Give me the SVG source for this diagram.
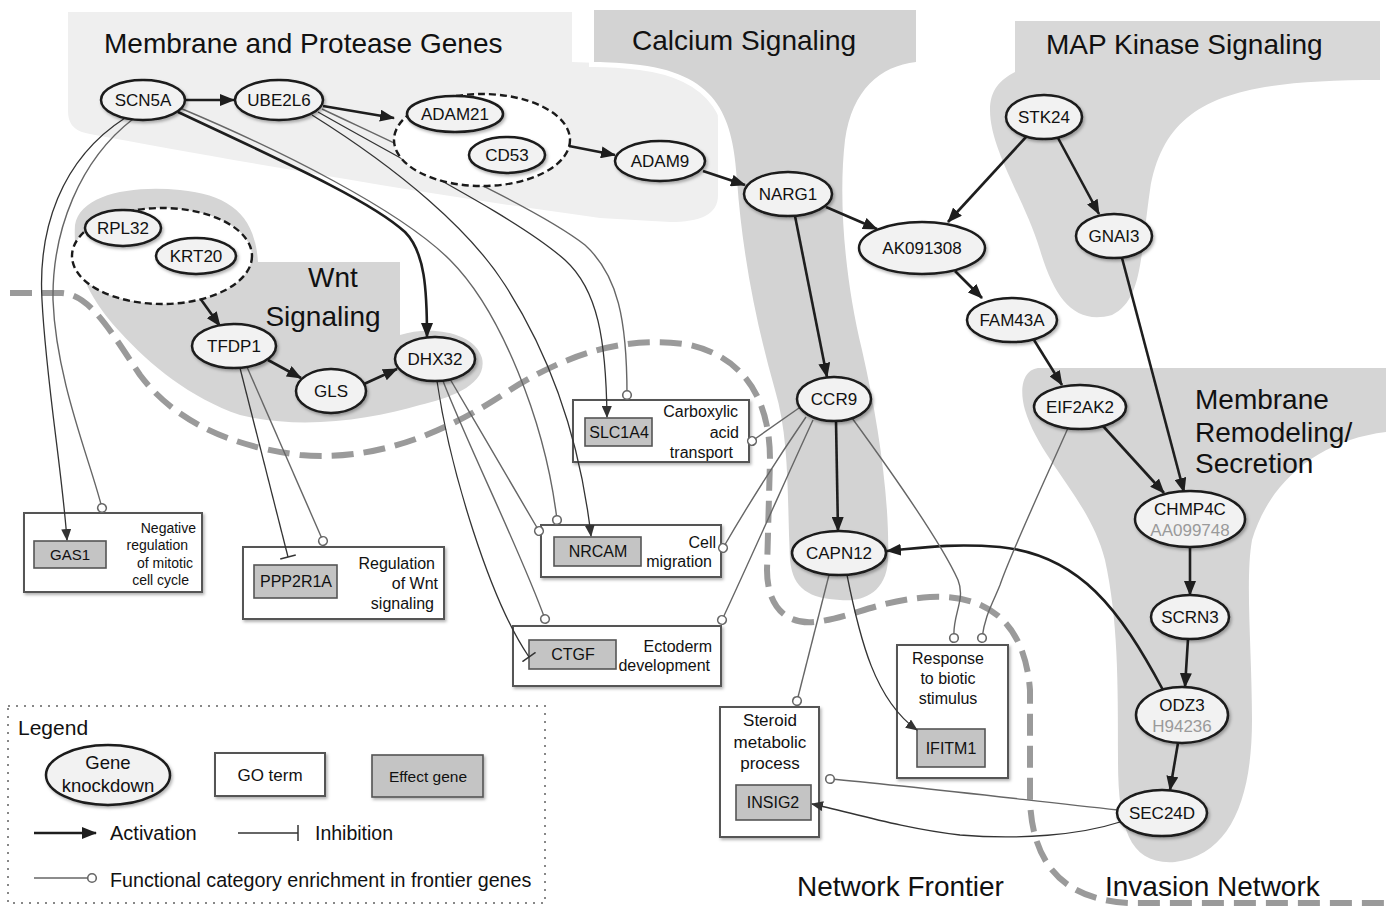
<svg xmlns="http://www.w3.org/2000/svg" width="1386" height="908" viewBox="0 0 1386 908">
<style>
text{font-family:"Liberation Sans",Arial,sans-serif;fill:#111}
.title{font-size:28px}
.node ellipse.n{fill:#f2f2f2;stroke:#1a1a1a;stroke-width:2.5;filter:url(#sh)}
.node text{font-size:17px;text-anchor:middle}
.grp{fill:#fff;stroke:#1a1a1a;stroke-width:2.4;stroke-dasharray:7 4}
.go{fill:#fff;stroke:#555;stroke-width:2;filter:url(#sh)}
.eff{fill:#c4c4c4;stroke:#555;stroke-width:1.6}
.gotxt{font-size:16px;text-anchor:end}
.gotxtc{font-size:16px;text-anchor:middle}
.efftxt{font-size:16px;text-anchor:middle}
.act{fill:none;stroke:#1e1e1e;stroke-width:2.6;marker-end:url(#ah)}
.tact{fill:none;stroke:#333;stroke-width:1.3;marker-end:url(#at)}
.inh{fill:none;stroke:#333;stroke-width:1.3;marker-end:url(#bar)}
.enr{fill:none;stroke:#666;stroke-width:1.4;marker-end:url(#ci)}
.sub{fill:#9a9a9a}
</style>
<defs>
<filter id="sh" x="-20%" y="-20%" width="150%" height="150%">
<feDropShadow dx="1.5" dy="2" stdDeviation="1.5" flood-color="#000" flood-opacity="0.3"/>
</filter>
<marker id="ah" markerUnits="userSpaceOnUse" markerWidth="15" markerHeight="12" refX="14" refY="6" orient="auto">
<path d="M0,0 L15,6 L0,12 Z" fill="#1e1e1e"/>
</marker>
<marker id="at" markerUnits="userSpaceOnUse" markerWidth="12" markerHeight="10" refX="11" refY="5" orient="auto">
<path d="M0,0 L12,5 L0,10 Z" fill="#333"/>
</marker>
<marker id="bar" markerUnits="userSpaceOnUse" markerWidth="4" markerHeight="16" refX="2" refY="8" orient="auto">
<path d="M2,0 L2,16" stroke="#333" stroke-width="1.5"/>
</marker>
<marker id="ci" markerUnits="userSpaceOnUse" markerWidth="12" markerHeight="12" refX="6" refY="6" orient="auto">
<circle cx="6" cy="6" r="4.3" fill="#fff" stroke="#666" stroke-width="1.6"/>
</marker>
</defs>
<rect width="1386" height="908" fill="#fff"/>

<g id="regions">
<path id="reg-membrane-protease" d="M68,12 L572,12 L572,62 L680,66 C705,70 718,90 718,120 L718,195 C718,215 700,222 670,222 L600,218 C430,195 230,160 90,134 C72,131 68,122 68,110 Z" fill="#efefef"/>
<path id="reg-calcium" d="M594,10 L916,10 L916,62 C880,66 852,90 845,140 C838,200 845,280 862,350 C878,420 890,500 888,560 C886,595 860,602 840,600 C810,598 793,590 790,560 C787,500 790,440 775,390 C755,320 742,250 737,180 C733,120 720,75 640,65 C615,62 600,62 594,62 Z" fill="#d3d3d3" stroke="#fff" stroke-width="10" paint-order="stroke"/>
<path id="reg-map" d="M1015,21 L1380,21 L1380,80 C1230,80 1165,100 1150,190 C1140,260 1142,300 1112,315 C1075,325 1055,300 1040,250 C1025,200 990,150 990,110 C990,90 1000,80 1015,72 Z" fill="#d8d8d8"/>
<path id="reg-wnt" d="M75,225 C80,195 130,185 180,190 C230,195 255,215 258,262 L400,262 L400,335 C430,325 475,332 482,358 C488,385 450,398 420,405 C370,420 300,430 240,415 C190,398 150,365 120,332 C95,305 72,270 75,225 Z" fill="#d5d5d5"/>
<path id="reg-remodel" d="M1040,368 L1386,368 L1386,432 C1320,440 1270,480 1252,540 C1245,580 1252,650 1252,720 C1252,800 1230,855 1175,862 C1130,865 1118,830 1118,760 C1118,680 1118,620 1105,560 C1090,500 1040,460 1025,410 C1018,385 1025,368 1040,368 Z" fill="#d5d5d5"/>
<path id="frontier" d="M10,293 L62,293 C90,295 110,330 140,375 C170,415 220,445 300,455 C380,462 450,430 510,390 C570,352 630,335 690,345 C745,358 770,400 770,460 L767,570 C767,605 785,625 815,622 C850,618 880,600 930,597 C990,594 1025,625 1030,690 L1030,800 C1032,860 1060,900 1130,903 L1386,903" fill="none" stroke="#9a9a9a" stroke-width="6" stroke-dasharray="22 10"/>
<text class="title" x="104" y="53">Membrane and Protease Genes</text>
<text class="title" x="632" y="50">Calcium Signaling</text>
<text class="title" x="1046" y="54">MAP Kinase Signaling</text>
<text class="title" x="333" y="287" text-anchor="middle">Wnt</text>
<text class="title" x="323" y="326" text-anchor="middle">Signaling</text>
<text class="title" x="1195" y="409">Membrane</text>
<text class="title" x="1195" y="442">Remodeling/</text>
<text class="title" x="1195" y="473">Secretion</text>
<text class="title" x="797" y="896">Network Frontier</text>
<text class="title" x="1105" y="896">Invasion Network</text>
</g>

<g id="go-terms">
<g id="go-negreg">
<rect class="go" x="24" y="513" width="178" height="79"/>
<text class="gotxt" x="196" y="533" style="font-size:14px">Negative</text>
<text class="gotxt" x="188" y="550" style="font-size:14px">regulation</text>
<text class="gotxt" x="193" y="568" style="font-size:14px">of mitotic</text>
<text class="gotxt" x="189" y="585" style="font-size:14px">cell cycle</text>
<rect class="eff" x="34" y="541" width="72" height="27"/>
<text class="efftxt" x="70" y="560" style="font-size:15px">GAS1</text>
</g>
<g id="go-wnt">
<rect class="go" x="243" y="547" width="201" height="72"/>
<text class="gotxt" x="435" y="569">Regulation</text>
<text class="gotxt" x="438" y="589">of Wnt</text>
<text class="gotxt" x="434" y="609">signaling</text>
<rect class="eff" x="254" y="565" width="83" height="33"/>
<text class="efftxt" x="296" y="587">PPP2R1A</text>
</g>
<g id="go-carbox">
<rect class="go" x="573" y="400" width="176" height="62"/>
<text class="gotxt" x="738" y="417">Carboxylic</text>
<text class="gotxt" x="739" y="438">acid</text>
<text class="gotxt" x="733" y="458">transport</text>
<rect class="eff" x="585" y="418" width="67" height="28"/>
<text class="efftxt" x="619" y="438">SLC1A4</text>
</g>
<g id="go-cellmig">
<rect class="go" x="541" y="525" width="180" height="52"/>
<text class="gotxt" x="716" y="548">Cell</text>
<text class="gotxt" x="712" y="567">migration</text>
<rect class="eff" x="554" y="537" width="87" height="29"/>
<text class="efftxt" x="598" y="557">NRCAM</text>
</g>
<g id="go-ecto">
<rect class="go" x="513" y="626" width="208" height="60"/>
<text class="gotxt" x="712" y="652">Ectoderm</text>
<text class="gotxt" x="710" y="671">development</text>
<rect class="eff" x="529" y="640" width="87" height="29"/>
<text class="efftxt" x="573" y="660">CTGF</text>
</g>
<g id="go-steroid">
<rect class="go" x="720" y="707" width="99" height="130"/>
<text class="gotxtc" x="770" y="726" style="font-size:17px">Steroid</text>
<text class="gotxtc" x="770" y="748" style="font-size:17px">metabolic</text>
<text class="gotxtc" x="770" y="769" style="font-size:17px">process</text>
<rect class="eff" x="736" y="785" width="75" height="35"/>
<text class="efftxt" x="773" y="808">INSIG2</text>
</g>
<g id="go-biotic">
<rect class="go" x="897" y="645" width="111" height="133"/>
<text class="gotxtc" x="948" y="664">Response</text>
<text class="gotxtc" x="948" y="684">to biotic</text>
<text class="gotxtc" x="948" y="704">stimulus</text>
<rect class="eff" x="917" y="729" width="68" height="38"/>
<text class="efftxt" x="951" y="754">IFITM1</text>
</g>
</g>

<g id="connectors">
<path class="act" d="M186,100 L234,100"/>
<path class="act" d="M323,106 L394,118"/>
<path class="act" d="M569,146 L615,155"/>
<path class="act" d="M703,171 L745,185"/>
<path class="act" d="M826,207 L877,229"/>
<path class="act" d="M1026,137 L948,222"/>
<path class="act" d="M1058,138 L1099,214"/>
<path class="act" d="M955,271 L982,298"/>
<path class="act" d="M1034,340 L1062,385"/>
<path class="act" d="M1103,426 L1164,493"/>
<path class="act" d="M1122,258 L1184,492"/>
<path class="act" d="M1190,546 L1190,595"/>
<path class="act" d="M1188,639 L1185,687"/>
<path class="act" d="M1178,743 L1170,790"/>
<path class="act" d="M795,216 L827,377"/>
<path class="act" d="M836,421 L838,531"/>
<path class="act" d="M1163,690 C1120,610 1080,555 1000,547 C950,543 920,548 887,551"/>
<path class="act" d="M178,112 C280,160 370,200 405,232 C425,252 427,290 427,337"/>
<path class="act" d="M197,294 L220,326"/>
<path class="act" d="M268,360 L301,378"/>
<path class="act" d="M364,384 L397,369"/>
<path d="M489,131 L497,138" stroke="#333" stroke-width="1.5"/>
<path d="M156,240 L162,245" stroke="#333" stroke-width="1.5"/>

<path class="tact" d="M125,118 C60,160 38,230 42,300 C46,380 62,470 67,540"/>
<path class="enr" d="M133,119 C80,160 52,230 53,300 C56,380 90,460 102,508"/>
<path class="enr" d="M180,108 C280,150 400,210 450,260 C500,310 545,420 557,520"/>
<path class="tact" d="M312,115 C400,170 470,230 505,285 C550,355 580,440 591,536"/>
<path class="tact" d="M318,112 C420,170 520,220 565,260 C598,290 606,340 607,417"/>
<path class="enr" d="M322,109 C430,160 540,210 585,245 C618,275 627,320 627,395"/>
<path class="inh" d="M240,368 L288,557"/>
<path class="enr" d="M247,367 L323,541"/>
<path class="enr" d="M450,379 C480,430 515,490 539,531"/>
<path class="enr" d="M443,381 C470,450 520,550 545,619"/>
<path class="inh" d="M437,381 C450,470 490,600 529,657"/>
<path class="enr" d="M799,408 L752,441"/>
<path class="enr" d="M806,417 C780,455 745,510 723,548"/>
<path class="enr" d="M813,420 C790,470 750,560 722,620"/>
<path class="enr" d="M852,418 C890,470 940,540 958,580 C966,600 952,615 954,638"/>
<path class="enr" d="M1068,428 C1045,480 1010,555 1000,585 C992,605 985,615 982,638"/>
<path class="enr" d="M829,575 L797,701"/>
<path class="tact" d="M847,575 C860,640 875,700 917,730"/>
<path class="enr" d="M1118,810 C1000,797 900,785 830,779"/>
<path class="tact" d="M1120,822 C1080,835 1020,840 960,835 C900,828 850,812 812,804"/>
</g>

<g id="nodes">
<g id="n-SCN5A" class="node"><ellipse class="n" cx="143" cy="100" rx="42" ry="20"/><text x="143" y="106">SCN5A</text></g>
<g id="n-UBE2L6" class="node"><ellipse class="n" cx="279" cy="100" rx="44" ry="20"/><text x="279" y="106">UBE2L6</text></g>
<g id="n-group1" class="node">
<ellipse class="grp" cx="482" cy="140" rx="88" ry="46"/>
<ellipse class="n" cx="455" cy="114" rx="48" ry="18"/><text x="455" y="120">ADAM21</text>
<ellipse class="n" cx="507" cy="155" rx="38" ry="18"/><text x="507" y="161">CD53</text>
</g>
<g id="n-ADAM9" class="node"><ellipse class="n" cx="660" cy="161" rx="45" ry="20"/><text x="660" y="167">ADAM9</text></g>
<g id="n-NARG1" class="node"><ellipse class="n" cx="788" cy="194" rx="44" ry="22"/><text x="788" y="200">NARG1</text></g>
<g id="n-AK091308" class="node"><ellipse class="n" cx="922" cy="248" rx="63" ry="26"/><text x="922" y="254">AK091308</text></g>
<g id="n-STK24" class="node"><ellipse class="n" cx="1044" cy="117" rx="38" ry="22"/><text x="1044" y="123">STK24</text></g>
<g id="n-GNAI3" class="node"><ellipse class="n" cx="1114" cy="236" rx="38" ry="22"/><text x="1114" y="242">GNAI3</text></g>
<g id="n-FAM43A" class="node"><ellipse class="n" cx="1012" cy="320" rx="45" ry="22"/><text x="1012" y="326">FAM43A</text></g>
<g id="n-EIF2AK2" class="node"><ellipse class="n" cx="1080" cy="407" rx="46" ry="22"/><text x="1080" y="413">EIF2AK2</text></g>
<g id="n-CCR9" class="node"><ellipse class="n" cx="834" cy="399" rx="37" ry="22"/><text x="834" y="405">CCR9</text></g>
<g id="n-CAPN12" class="node"><ellipse class="n" cx="839" cy="553" rx="47" ry="22"/><text x="839" y="559">CAPN12</text></g>
<g id="n-CHMP4C" class="node"><ellipse class="n" cx="1190" cy="519" rx="55" ry="28"/><text x="1190" y="515">CHMP4C</text><text class="sub" x="1190" y="536">AA099748</text></g>
<g id="n-SCRN3" class="node"><ellipse class="n" cx="1190" cy="617" rx="39" ry="22"/><text x="1190" y="623">SCRN3</text></g>
<g id="n-ODZ3" class="node"><ellipse class="n" cx="1182" cy="715" rx="46" ry="28"/><text x="1182" y="711">ODZ3</text><text class="sub" x="1182" y="732">H94236</text></g>
<g id="n-SEC24D" class="node"><ellipse class="n" cx="1162" cy="813" rx="45" ry="23"/><text x="1162" y="819">SEC24D</text></g>
<g id="n-group2" class="node">
<ellipse class="grp" cx="162" cy="256" rx="90" ry="48"/>
<ellipse class="n" cx="123" cy="228" rx="38" ry="18"/><text x="123" y="234">RPL32</text>
<ellipse class="n" cx="196" cy="256" rx="40" ry="18"/><text x="196" y="262">KRT20</text>
</g>
<g id="n-TFDP1" class="node"><ellipse class="n" cx="234" cy="346" rx="42" ry="22"/><text x="234" y="352">TFDP1</text></g>
<g id="n-GLS" class="node"><ellipse class="n" cx="331" cy="391" rx="35" ry="22"/><text x="331" y="397">GLS</text></g>
<g id="n-DHX32" class="node"><ellipse class="n" cx="435" cy="359" rx="40" ry="22"/><text x="435" y="365">DHX32</text></g>
</g>

<g id="legend">
<rect x="8" y="706" width="537" height="197" fill="none" stroke="#888" stroke-width="2" stroke-dasharray="2 6"/>
<text x="18" y="735" style="font-size:21px">Legend</text>
<ellipse cx="108" cy="775" rx="62" ry="30" fill="#f2f2f2" stroke="#1a1a1a" stroke-width="2.5" filter="url(#sh)"/>
<text x="108" y="769" text-anchor="middle" style="font-size:18.5px">Gene</text>
<text x="108" y="792" text-anchor="middle" style="font-size:18.5px">knockdown</text>
<rect class="go" x="215" y="753" width="110" height="43"/>
<text x="270" y="781" text-anchor="middle" style="font-size:17px">GO term</text>
<rect class="eff" x="372" y="755" width="111" height="42" filter="url(#sh)"/>
<text x="428" y="782" text-anchor="middle" style="font-size:15.5px">Effect gene</text>
<path class="act" d="M34,833 L96,833"/>
<text x="110" y="840" style="font-size:20px">Activation</text>
<path class="inh" d="M238,833 L298,833"/>
<text x="315" y="840" style="font-size:19.5px">Inhibition</text>
<path class="enr" d="M34,878 L92,878"/>
<text x="110" y="887" style="font-size:19.7px">Functional category enrichment in frontier genes</text>
</g>
</svg>
